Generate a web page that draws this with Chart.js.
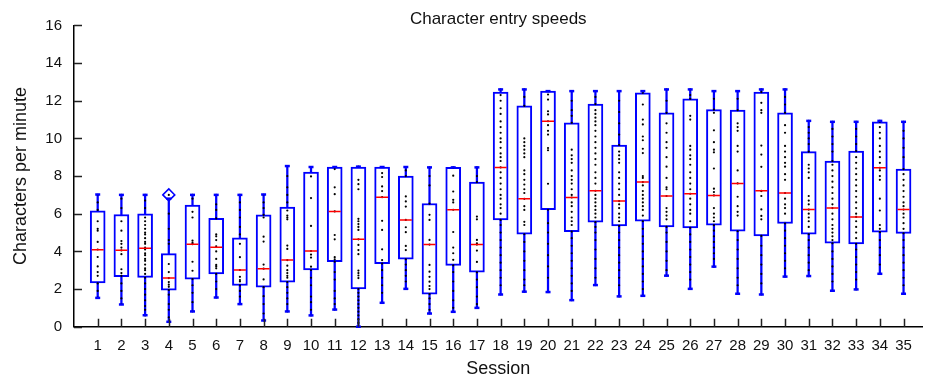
<!DOCTYPE html>
<html>
<head>
<meta charset="utf-8">
<script src="https://cdn.jsdelivr.net/npm/chart.js@4.4.0/dist/chart.umd.min.js"></script>
<style>
  html, body { margin: 0; padding: 0; background: #fff; }
  #wrap { width: 930px; height: 380px; }
</style>
</head>
<body>
<div id="wrap"><canvas id="chart" width="930" height="380"></canvas></div>
<script>
// Character entry speeds - box plot per session

const sessions = [1, 2, 3, 4, 5, 6, 7, 8, 9, 10, 11, 12, 13, 14, 15, 16, 17, 18,
  19, 20, 21, 22, 23, 24, 25, 26, 27, 28, 29, 30, 31, 32, 33, 34, 35];

const whiskerLow = [1.53, 1.18, 0.61, 0.26, 0.81, 1.55, 1.2, 0.33, 0.81, 0.6, 0.91, 0.0,
  1.27, 2.01, 0.7, 0.79, 1.0, 1.71, 1.86, 1.84, 1.41, 2.21, 1.61, 1.64, 2.71, 2.01,
  3.19, 1.75, 1.71, 2.66, 2.69, 1.91, 1.98, 2.81, 1.75];
const q1 = [2.33, 2.66, 2.62, 1.94, 2.53, 2.8, 2.19, 2.1, 2.37, 3.01, 3.45, 2.0,
  3.35, 3.58, 1.73, 3.26, 2.89, 5.67, 4.91, 6.21, 5.05, 5.55, 5.35, 5.6, 5.3, 5.25,
  5.39, 5.07, 4.82, 5.48, 4.91, 4.43, 4.4, 5.02, 4.96];
const median = [4.08, 4.06, 4.17, 2.58, 4.38, 4.22, 3.01, 3.08, 3.54, 4.02, 6.12, 4.64,
  6.88, 5.67, 4.36, 6.21, 4.36, 8.46, 6.79, 10.91, 6.86, 7.22, 6.67, 7.68, 6.94, 7.06,
  6.97, 7.61, 7.22, 7.1, 6.22, 6.3, 5.83, 8.44, 6.22];
const q3 = [6.15, 5.96, 6.0, 3.88, 6.46, 5.75, 4.72, 5.94, 6.35, 8.21, 8.48, 8.48,
  8.48, 8.0, 6.54, 8.46, 7.68, 12.46, 11.73, 12.51, 10.83, 11.82, 9.65, 12.42, 11.36, 12.1,
  11.53, 11.5, 12.46, 11.36, 9.3, 8.8, 9.33, 10.88, 8.37];
const whiskerHigh = [7.02, 7.0, 7.0, 6.8, 7.0, 7.0, 7.0, 7.02, 8.53, 8.48, 8.48, 8.5,
  8.48, 8.48, 8.46, 8.46, 8.46, 12.6, 12.6, 12.51, 12.51, 12.51, 12.51, 12.51, 12.6, 12.6,
  12.51, 12.51, 12.6, 12.6, 10.93, 10.88, 10.88, 10.93, 10.88];

const outlierSessions = [4];
const outlierValues = [7.0];

// individual measurements shown as dots in each session
const sessionDots = [
  [7.0, 6.6, 6.2, 5.6, 5.2, 5.1, 4.5, 4.1, 3.7, 3.2, 2.9, 2.7, 2.3, 1.9, 1.55],
  [7.0, 6.8, 6.3, 5.6, 5.1, 4.55, 4.4, 4.2, 4.05, 3.85, 3.05, 2.85, 2.7, 2.3, 1.9, 1.5, 1.2],
  [7.0, 6.7, 6.3, 5.8, 5.6, 5.4, 5.2, 5.0, 4.9, 4.7, 4.5, 4.4, 4.2, 4.1, 3.9, 3.8, 3.6, 3.5,
    3.3, 3.1, 3.0, 2.8, 2.6, 2.3, 2.0, 1.7, 1.4, 1.1, 0.9, 0.6],
  [7.0, 6.0, 5.2, 4.6, 4.4, 3.33, 2.9, 2.58, 2.37, 2.23, 2.12, 1.95, 1.7, 1.2, 0.9, 0.5, 0.26],
  [7.0, 6.8, 6.1, 5.8, 4.57, 4.45, 4.38, 3.45, 2.97, 2.53, 2.2, 1.8, 1.3, 0.81],
  [7.0, 6.5, 6.2, 5.75, 4.9, 4.8, 4.6, 4.27, 4.0, 3.6, 3.28, 3.2, 3.1, 2.8, 2.4, 2.0, 1.55],
  [7.0, 6.6, 6.2, 5.8, 5.3, 4.9, 4.4, 3.69, 3.01, 2.65, 2.48, 2.4, 2.19, 1.9, 1.6, 1.2],
  [7.0, 6.6, 6.3, 5.94, 5.8, 4.78, 4.52, 3.3, 3.08, 2.51, 2.1, 1.62, 1.2, 0.7, 0.33],
  [8.53, 8.0, 7.4, 7.0, 6.6, 6.17, 5.9, 5.8, 5.7, 4.31, 4.13, 3.54, 3.24, 3.0, 2.85, 2.7,
    2.6, 2.37, 2.1, 1.8, 1.5, 1.2, 0.81],
  [8.48, 7.98, 6.83, 5.35, 4.02, 3.83, 3.67, 3.19, 3.01, 2.6, 2.2, 1.6, 1.3, 0.9, 0.6],
  [8.48, 8.37, 7.4, 7.04, 6.12, 4.87, 4.64, 3.69, 3.58, 3.45, 2.9, 2.5, 1.9, 1.5, 1.2, 0.91],
  [8.5, 7.8, 7.57, 7.3, 5.73, 5.6, 5.45, 5.3, 5.14, 4.64, 4.34, 4.07, 3.85, 2.98, 2.85, 2.72,
    2.58, 2.0, 1.8, 1.6, 1.4, 1.2, 1.0, 0.8, 0.6, 0.4, 0.2, 0.0],
  [8.48, 8.16, 7.95, 7.45, 7.2, 6.88, 5.62, 5.14, 4.11, 3.54, 3.35, 3.0, 2.6, 2.2, 1.8, 1.27],
  [8.48, 8.3, 8.0, 6.92, 6.65, 6.38, 5.67, 5.28, 5.02, 4.29, 4.07, 3.58, 3.3, 3.0, 2.7, 2.4, 2.01],
  [8.46, 8.0, 7.5, 6.54, 5.94, 5.67, 4.61, 4.36, 3.28, 2.92, 2.65, 2.39, 2.16, 2.0, 1.73,
    1.5, 1.2, 0.9, 0.7],
  [8.46, 8.02, 7.18, 6.74, 6.6, 6.21, 5.03, 4.2, 3.9, 3.55, 3.26, 2.9, 2.4, 1.9, 1.4, 1.0, 0.79],
  [8.46, 8.0, 7.68, 5.85, 5.7, 4.61, 4.43, 4.36, 4.04, 3.44, 2.89, 2.5, 2.1, 1.6, 1.2, 1.0],
  [12.6, 12.3, 12.0, 11.6, 11.3, 10.9, 10.6, 10.3, 10.0, 9.8, 9.5, 9.2, 9.0, 8.8, 8.46, 8.2,
    7.9, 7.6, 7.3, 7.0, 6.8, 6.5, 6.3, 6.0, 5.67, 5.4, 5.0, 4.6, 4.2, 3.8, 3.4, 3.0, 2.6, 2.2, 1.71],
  [12.6, 12.2, 11.73, 10.0, 9.8, 9.6, 9.4, 9.2, 9.0, 8.3, 8.1, 7.8, 7.55, 7.3, 7.1, 6.79,
    6.4, 6.2, 5.57, 5.4, 4.91, 4.5, 4.0, 3.5, 3.0, 2.5, 2.2, 1.86],
  [12.51, 12.33, 12.06, 11.44, 11.27, 10.91, 10.7, 10.4, 10.2, 9.49, 9.37, 7.59, 6.21,
    5.5, 5.0, 4.4, 3.8, 3.2, 2.6, 1.84],
  [12.51, 12.0, 11.5, 11.2, 10.83, 9.4, 9.1, 8.9, 8.7, 8.3, 8.0, 7.8, 7.6, 7.3, 7.0, 6.86,
    6.6, 6.4, 6.1, 5.8, 5.6, 5.4, 5.05, 4.7, 4.3, 3.9, 3.5, 3.1, 2.7, 2.3, 1.9, 1.41],
  [12.51, 12.2, 11.82, 11.5, 11.3, 11.1, 10.9, 10.7, 10.4, 10.1, 9.8, 9.5, 9.2, 8.9, 8.6,
    8.2, 7.9, 7.6, 7.22, 7.0, 6.8, 6.6, 6.4, 6.2, 6.0, 5.8, 5.55, 5.3, 5.0, 4.6, 4.1, 3.6,
    3.1, 2.6, 2.21],
  [12.51, 12.0, 11.4, 10.8, 10.2, 9.65, 9.3, 9.1, 8.9, 8.7, 8.2, 7.9, 7.6, 7.3, 7.0, 6.67,
    6.5, 6.3, 6.0, 5.8, 5.6, 5.35, 5.0, 4.6, 4.2, 3.8, 3.4, 3.0, 2.6, 2.2, 1.61],
  [12.51, 12.42, 11.8, 11.0, 10.74, 10.1, 9.9, 9.45, 9.22, 8.0, 7.9, 7.68, 7.5, 7.2, 7.0,
    6.8, 6.6, 6.4, 6.2, 5.9, 5.6, 5.2, 4.8, 4.4, 4.0, 3.6, 3.2, 2.8, 2.4, 2.0, 1.64],
  [12.6, 12.0, 11.36, 10.8, 10.3, 9.8, 9.5, 9.0, 8.5, 7.9, 7.4, 7.3, 6.94, 6.3, 6.1, 5.9,
    5.7, 5.3, 5.0, 4.5, 4.0, 3.5, 3.0, 2.71],
  [12.6, 12.3, 12.1, 11.2, 11.0, 9.6, 9.4, 9.1, 8.9, 8.6, 8.2, 7.9, 7.6, 7.3, 7.06, 6.8,
    6.5, 6.2, 6.0, 5.6, 5.25, 4.9, 4.5, 4.1, 3.7, 3.3, 2.9, 2.5, 2.01],
  [12.51, 12.1, 11.53, 11.36, 10.43, 9.8, 9.4, 9.26, 8.4, 7.33, 7.15, 6.97, 6.3, 6.0, 5.8,
    5.6, 5.39, 5.1, 4.8, 4.5, 4.2, 3.9, 3.6, 3.19],
  [12.51, 12.1, 11.5, 10.8, 10.6, 10.4, 9.6, 9.3, 8.3, 7.61, 6.9, 6.4, 6.1, 5.9, 5.07, 4.6,
    4.1, 3.6, 3.1, 2.6, 2.2, 1.75],
  [12.6, 12.46, 11.89, 11.5, 11.36, 9.62, 9.14, 8.49, 7.22, 7.2, 6.94, 6.23, 5.88, 5.7,
    4.82, 4.3, 3.8, 3.3, 2.8, 2.3, 1.71],
  [12.6, 12.2, 11.8, 11.36, 10.7, 10.3, 9.6, 9.3, 9.0, 8.7, 8.5, 8.1, 7.8, 7.1, 6.8, 6.5,
    6.3, 6.0, 5.48, 5.1, 4.7, 4.3, 3.9, 3.5, 3.1, 2.66],
  [10.93, 10.6, 10.3, 10.0, 9.7, 9.3, 8.6, 8.4, 8.2, 7.9, 6.94, 6.7, 6.5, 6.22, 6.0, 5.8,
    5.6, 5.3, 4.91, 4.6, 4.2, 3.8, 3.4, 3.0, 2.69],
  [10.88, 10.5, 10.1, 9.7, 9.3, 8.8, 8.6, 8.3, 8.0, 7.7, 7.4, 7.1, 6.8, 6.5, 6.3, 6.0, 5.7,
    5.4, 5.2, 5.0, 4.8, 4.6, 4.43, 4.0, 3.6, 3.2, 2.8, 2.4, 1.91],
  [10.88, 10.5, 10.1, 9.7, 9.33, 9.0, 8.7, 8.4, 8.1, 7.8, 7.5, 7.2, 6.9, 6.6, 6.3, 6.0,
    5.83, 5.6, 5.3, 5.0, 4.7, 4.4, 4.1, 3.7, 3.3, 2.9, 2.5, 1.98],
  [10.93, 10.88, 10.6, 10.3, 10.0, 9.6, 9.3, 9.0, 8.7, 8.44, 8.3, 8.0, 7.8, 6.8, 6.17, 5.4,
    5.2, 5.02, 4.6, 4.2, 3.8, 3.3, 2.81],
  [10.88, 10.4, 10.0, 9.5, 9.0, 8.37, 8.1, 7.8, 7.5, 7.2, 6.9, 6.6, 6.4, 6.22, 6.0, 5.8,
    5.5, 5.2, 4.96, 4.6, 4.2, 3.8, 3.4, 3.0, 2.6, 2.2, 1.75]
];

const yTickValues = [0, 2, 4, 6, 8, 10, 12, 14, 16];

const BLUE = '#0000ff';
const FONT = "'Liberation Sans', Arial, sans-serif";

// build point lists from the arrays above
const dotPoints = [];
sessionDots.forEach((vals, i) => {
  vals.forEach(v => dotPoints.push({ x: sessions[i], y: v }));
});
const capPoints = [];
sessions.forEach((s, i) => {
  capPoints.push({ x: s, y: whiskerLow[i] });
  capPoints.push({ x: s, y: whiskerHigh[i] });
});

// tick marks pointing into the plot area
const innerTicks = {
  id: 'innerTicks',
  afterDatasetsDraw(chart) {
    const { ctx, scales: { x, y } } = chart;
    ctx.save();
    ctx.strokeStyle = '#222';
    ctx.lineWidth = 1.5;
    ctx.beginPath();
    x.ticks.forEach(t => {
      const px = Math.round(x.getPixelForValue(t.value)) + 0.5;
      ctx.moveTo(px, x.top);
      ctx.lineTo(px, x.top - 8);
    });
    y.ticks.forEach(t => {
      const py = Math.round(y.getPixelForValue(t.value)) + 0.5;
      ctx.moveTo(y.right, py);
      ctx.lineTo(y.right + 8, py);
    });
    ctx.stroke();
    ctx.restore();
  }
};

const chart = new Chart(document.getElementById('chart'), {
  type: 'bar',
  data: {
    datasets: [{
      label: 'whiskers',
      data: sessions.map((s, i) => ({ x: s, y: [whiskerLow[i], whiskerHigh[i]] })),
      backgroundColor: BLUE,
      borderWidth: 0,
      barThickness: 1.6,
      grouped: false,
      order: 6
    }, {
      label: 'boxes',
      data: sessions.map((s, i) => ({ x: s, y: [q1[i], q3[i]] })),
      backgroundColor: '#ffffff',
      borderColor: BLUE,
      borderWidth: 2,
      borderSkipped: false,
      barThickness: 15,
      grouped: false,
      order: 5
    }, {
      type: 'line',
      label: 'dots',
      data: dotPoints,
      showLine: false,
      pointRadius: 1.1,
      pointBackgroundColor: '#000',
      pointBorderWidth: 0,
      clip: false,
      order: 3
    }, {
      type: 'line',
      label: 'median',
      data: sessions.map((s, i) => ({ x: s, y: median[i] })),
      showLine: false,
      pointStyle: 'line',
      pointRadius: 6,
      pointBorderColor: '#ff0000',
      pointBorderWidth: 1.5,
      order: 2
    }, {
      type: 'line',
      label: 'caps',
      data: capPoints,
      showLine: false,
      pointStyle: 'line',
      pointRadius: 2.5,
      pointBorderColor: BLUE,
      pointBorderWidth: 2.5,
      clip: false,
      order: 1
    }, {
      type: 'line',
      label: 'outliers',
      data: outlierSessions.map((s, i) => ({ x: s, y: outlierValues[i] })),
      showLine: false,
      pointStyle: 'rectRot',
      pointRadius: 6,
      pointBackgroundColor: 'rgba(255,255,255,0)',
      pointBorderColor: BLUE,
      pointBorderWidth: 1.5,
      order: 0
    }]
  },
  options: {
    responsive: false,
    animation: false,
    layout: { padding: { left: 0, right: 5, top: 0, bottom: 0 } },
    plugins: {
      legend: { display: false },
      tooltip: { enabled: false },
      title: {
        display: true,
        fullSize: false,
        text: 'Character entry speeds',
        color: '#111',
        font: { family: FONT, size: 17, weight: 'normal' },
        padding: { top: 9, bottom: -4 }
      }
    },
    scales: {
      x: {
        type: 'linear',
        offset: false,
        min: 0,
        max: 35.8,
        afterBuildTicks: scale => { scale.ticks = sessions.map(v => ({ value: v })); },
        afterFit: scale => { scale.height = 53.3; },
        grid: { display: false, drawTicks: false },
        border: { display: true, color: '#000', width: 1.5 },
        ticks: {
          color: '#111',
          padding: 10,
          autoSkip: false,
          maxRotation: 0,
          font: { family: FONT, size: 15 }
        },
        title: {
          display: true,
          text: 'Session',
          color: '#111',
          font: { family: FONT, size: 18 },
          padding: { top: 0, bottom: 0 }
        }
      },
      y: {
        min: 0,
        max: 16,
        afterBuildTicks: scale => { scale.ticks = yTickValues.map(v => ({ value: v })); },
        afterFit: scale => { scale.width = 74; },
        grid: { display: false, drawTicks: false },
        border: { display: true, color: '#000', width: 1.5 },
        ticks: {
          color: '#111',
          padding: 12,
          font: { family: FONT, size: 15 }
        },
        title: {
          display: true,
          text: 'Characters per minute',
          color: '#111',
          font: { family: FONT, size: 18 },
          padding: { top: 10, bottom: 0 }
        }
      }
    }
  },
  plugins: [innerTicks]
});
</script>
</body>
</html>
